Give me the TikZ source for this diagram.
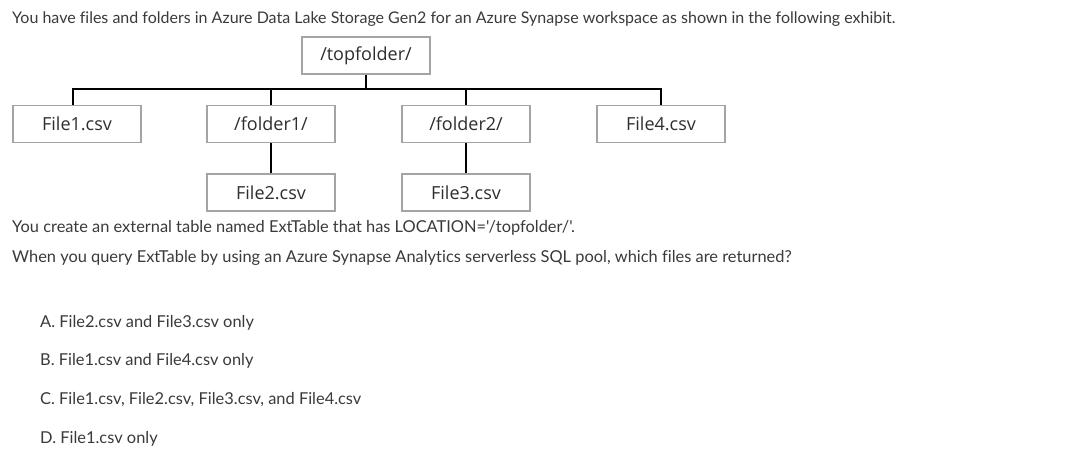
\documentclass[tikz,border=0pt]{standalone}
\usepackage{fontspec}
\setmainfont{Lato}[Ligatures={TeXOff,CommonOff}]
\newfontfamily\boxfont{Open Sans}
\definecolor{bodytxt}{HTML}{3A3A3A}
\definecolor{boxline}{HTML}{A4A4A4}
\definecolor{boxtxt}{HTML}{2E2E2E}
\tikzset{
  fbox/.style={draw=boxline, line width=1.1pt, fill=white, minimum width=128pt, minimum height=37pt, inner sep=0pt, font=\boxfont\fontsize{18}{21}\selectfont, text=boxtxt},
  link/.style={draw=black, line width=2.6pt},
  body/.style={anchor=base west, inner sep=0pt, font=\fontsize{16.4}{19}\selectfont, text=bodytxt},
  titlebody/.style={body, font=\fontsize{16}{19}\selectfont}
}
\begin{document}
\begin{tikzpicture}[x=1pt,y=-1pt]
\fill[white] (0,0) rectangle (1073,457);
\useasboundingbox (0,0) rectangle (1073,457);
\node[titlebody] (q1) at (12,24) {You have files and folders in Azure Data Lake Storage Gen2 for an Azure Synapse workspace as shown in the following exhibit.};
\node[fbox] (top) at (366,55.5) {/topfolder/};
\node[fbox] (f1) at (77,124) {File1.csv};
\node[fbox] (d1) at (271,124) {/folder1/};
\node[fbox] (d2) at (466,124) {/folder2/};
\node[fbox] (f4) at (661,124) {File4.csv};
\node[fbox] (f2) at (271,192.5) {File2.csv};
\node[fbox] (f3) at (466,192.5) {File3.csv};
\coordinate (bar) at (366,89);
\draw[link] (top.south) -- (bar);
\draw[link] ([xshift=-4pt]f1.north) |- (bar) -| (f4.north);
\draw[link] (d1.north) -- (d1.north |- bar);
\draw[link] (d2.north) -- (d2.north |- bar);
\draw[link] (d1.south) -- (f2.north);
\draw[link] (d2.south) -- (f3.north);
\node[body] (q2) at (12,232) {You create an external table named ExtTable that has LOCATION='/topfolder/'.};
\node[body] (q3) at (12,262) {When you query ExtTable by using an Azure Synapse Analytics serverless SQL pool, which files are returned?};
\node[body] (oa) at (40,327) {A. File2.csv and File3.csv only};
\node[body] (ob) at (40,365) {B. File1.csv and File4.csv only};
\node[body] (oc) at (40,404) {C. File1.csv, File2.csv, File3.csv, and File4.csv};
\node[body] (od) at (40,443) {D. File1.csv only};
\end{tikzpicture}
\end{document}
